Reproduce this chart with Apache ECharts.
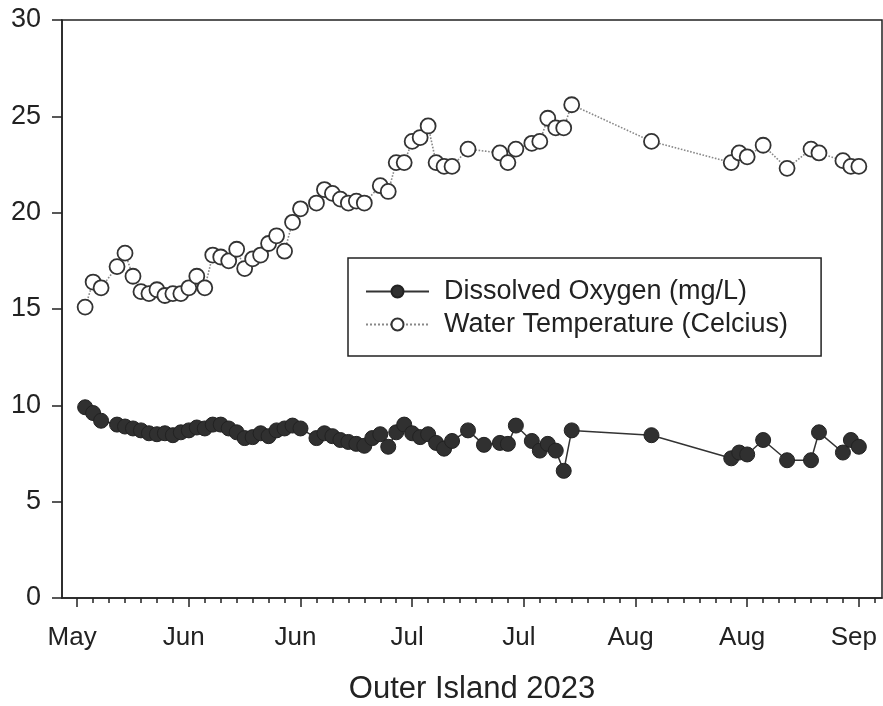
<!DOCTYPE html>
<html>
<head>
<meta charset="utf-8">
<script src="https://cdn.jsdelivr.net/npm/echarts@6/dist/echarts.min.js"></script>
<style>
html,body{margin:0;padding:0;background:#fff;}
#chart{width:883px;height:706px;}
</style>
</head>
<body>
<div id="chart"></div>
<script>
// ---- data ----
const originDate = '2023-05-28';   // first major tick ("May")
const tickDates = ['2023-05-28','2023-06-11','2023-06-25','2023-07-09','2023-07-23','2023-08-06','2023-08-20','2023-09-03'];
const tickLabels = ['May','Jun','Jun','Jul','Jul','Aug','Aug','Sep'];

const tempDates = ['05-29','05-30','05-31','06-02','06-03','06-04','06-05','06-06','06-07','06-08','06-09','06-10','06-11','06-12','06-13','06-14','06-15','06-16','06-17','06-18','06-19','06-20','06-21','06-22','06-23','06-24','06-25','06-27','06-28','06-29','06-30','07-01','07-02','07-03','07-05','07-06','07-07','07-08','07-09','07-10','07-11','07-12','07-13','07-14','07-16','07-20','07-21','07-22','07-24','07-25','07-26','07-27','07-28','07-29','08-08','08-18','08-19','08-20','08-22','08-25','08-28','08-29','09-01','09-02','09-03'];
const tempValues = [15.1,16.4,16.1,17.2,17.9,16.7,15.9,15.8,16.0,15.7,15.8,15.8,16.1,16.7,16.1,17.8,17.7,17.5,18.1,17.1,17.6,17.8,18.4,18.8,18.0,19.5,20.2,20.5,21.2,21.0,20.7,20.5,20.6,20.5,21.4,21.1,22.6,22.6,23.7,23.9,24.5,22.6,22.4,22.4,23.3,23.1,22.6,23.3,23.6,23.7,24.9,24.4,24.4,25.6,23.7,22.6,23.1,22.9,23.5,22.3,23.3,23.1,22.7,22.4,22.4];

const doDates = ['05-29','05-30','05-31','06-02','06-03','06-04','06-05','06-06','06-07','06-08','06-09','06-10','06-11','06-12','06-13','06-14','06-15','06-16','06-17','06-18','06-19','06-20','06-21','06-22','06-23','06-24','06-25','06-27','06-28','06-29','06-30','07-01','07-02','07-03','07-04','07-05','07-06','07-07','07-08','07-09','07-10','07-11','07-12','07-13','07-14','07-16','07-18','07-20','07-21','07-22','07-24','07-25','07-26','07-27','07-28','07-29','08-08','08-18','08-19','08-20','08-22','08-25','08-28','08-29','09-01','09-02','09-03'];
const doValues = [9.9,9.6,9.2,9.0,8.9,8.8,8.7,8.55,8.5,8.55,8.45,8.6,8.7,8.85,8.8,9.0,9.0,8.8,8.6,8.3,8.35,8.55,8.4,8.7,8.8,8.95,8.8,8.3,8.55,8.4,8.2,8.1,8.0,7.9,8.3,8.5,7.85,8.6,9.0,8.55,8.35,8.5,8.05,7.75,8.15,8.7,7.95,8.05,8.0,8.95,8.15,7.65,8.0,7.65,6.6,8.7,8.45,7.25,7.55,7.45,8.2,7.15,7.15,8.6,7.55,8.2,7.85];

const seriesNames = ['Dissolved Oxygen (mg/L)', 'Water Temperature (Celcius)'];
const xTitle = 'Outer Island 2023';
const yTicks = [0, 5, 10, 15, 20, 25, 30];

// ---- helpers ----
const DAY = 86400000;
const t0 = Date.parse(originDate + 'T00:00:00Z');
function dayOf(s) {
  const full = s.length === 5 ? '2023-' + s : s;
  return Math.round((Date.parse(full + 'T00:00:00Z') - t0) / DAY);
}
const majorDays = tickDates.map(dayOf);
const minorDays = [];
for (let d = 0; d <= 100; d += 2) if (majorDays.indexOf(d) < 0) minorDays.push(d);

const doData = doDates.map((d, i) => [dayOf(d), doValues[i]]);
const tempData = tempDates.map((d, i) => [dayOf(d), tempValues[i]]);

const FONT = '"Liberation Sans", Arial, sans-serif';
const INK = '#222';

const chart = echarts.init(document.getElementById('chart'), null, {renderer: 'canvas'});
chart.setOption({
  animation: false,
  backgroundColor: '#fff',
  textStyle: {fontFamily: FONT},
  grid: {left: 62, top: 20, width: 820, height: 578, show: true, borderColor: INK, borderWidth: 1.5,
    backgroundColor: 'transparent', containLabel: false, outerBoundsMode: 'none'},
  legend: {
    orient: 'vertical', left: 348, top: 258,
    data: seriesNames,
    selectedMode: false,
    backgroundColor: '#fff',
    borderColor: INK, borderWidth: 1.5, borderRadius: 0,
    padding: [20, 33, 18, 17],
    itemWidth: 63, itemHeight: 15, itemGap: 6,
    textStyle: {fontFamily: FONT, fontSize: 27, color: INK, padding: [0, 0, 0, 10]}
  },
  xAxis: [{
    type: 'value', min: -1.9, max: 100.9, position: 'bottom',
    splitLine: {show: false},
    axisLine: {show: true, onZero: false, lineStyle: {color: INK, width: 1.5}},
    axisTick: {show: true, inside: false, length: 9, lineStyle: {color: INK, width: 1.5}, customValues: majorDays},
    axisLabel: {show: true, fontSize: 26, color: INK, margin: 27, fontFamily: FONT, customValues: majorDays,
      padding: [0, 10, 0, 0],
      formatter: v => { const i = majorDays.indexOf(Math.round(v)); return i >= 0 ? tickLabels[i] : ''; }},
    name: xTitle, nameLocation: 'middle', nameGap: 76,
    nameTextStyle: {fontSize: 31, color: INK, fontFamily: FONT}
  }, {
    type: 'value', min: -1.9, max: 100.9, position: 'bottom', gridIndex: 0,
    splitLine: {show: false},
    axisLine: {show: false, onZero: false},
    axisTick: {show: true, inside: false, length: 5, lineStyle: {color: INK, width: 1.5}, customValues: minorDays},
    axisLabel: {show: false}
  }],
  yAxis: {
    type: 'value', min: 0, max: 30, interval: 5,
    splitLine: {show: false},
    axisLine: {show: true, onZero: false, lineStyle: {color: INK, width: 1.5}},
    axisTick: {show: true, inside: false, length: 10, lineStyle: {color: INK, width: 1.5}},
    axisLabel: {fontSize: 27, color: INK, margin: 21, fontFamily: FONT,
      formatter: v => yTicks.indexOf(v) >= 0 ? String(v) : ''}
  },
  series: [{
    name: seriesNames[0], type: 'line', xAxisIndex: 0, data: doData,
    symbol: 'circle', symbolSize: 15,
    itemStyle: {color: '#303030', borderColor: '#222', borderWidth: 1},
    lineStyle: {color: '#333', width: 1.5},
    z: 3
  }, {
    name: seriesNames[1], type: 'line', xAxisIndex: 0, data: tempData,
    symbol: 'circle', symbolSize: 15,
    itemStyle: {color: '#fff', borderColor: '#333', borderWidth: 1.8},
    lineStyle: {color: '#888', width: 1.6, type: 'dotted'},
    z: 4
  }]
});
</script>
</body>
</html>
